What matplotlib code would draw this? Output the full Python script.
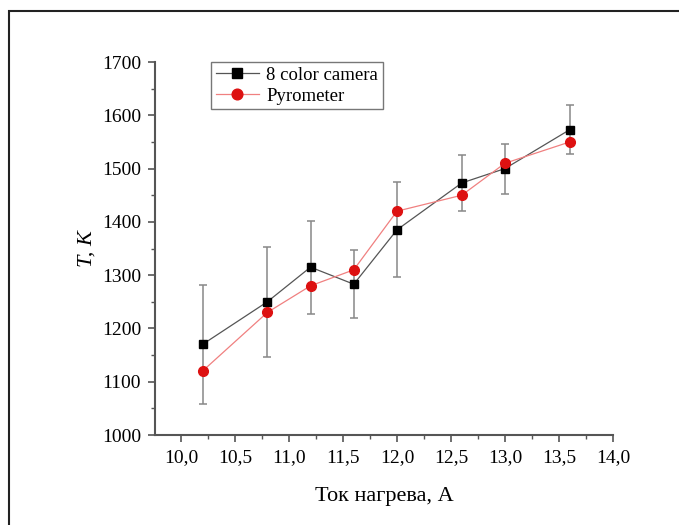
import matplotlib
matplotlib.use('Agg')
import matplotlib.pyplot as plt
from matplotlib.patches import Rectangle
from matplotlib.ticker import MultipleLocator, FuncFormatter

current = [10.2, 10.8, 11.2, 11.6, 12.0, 12.6, 13.0, 13.6]
camera_T = [1170, 1250, 1315, 1283, 1385, 1473, 1500, 1573]
camera_err = [111, 103, 87, 64, 89, 52, 47, 46]
pyro_T = [1120, 1230, 1280, 1310, 1420, 1450, 1510, 1550]

plt.rcParams['font.family'] = ['Liberation Serif', 'DejaVu Serif']

fig = plt.figure(figsize=(6.79, 5.25), dpi=100)
# outer frame (left and top edges visible)
fig.patches.append(Rectangle((9 / 679, -0.05), 1.0, 1 - 11 / 525 + 0.05,
                             transform=fig.transFigure, fill=False,
                             edgecolor='#222222', lw=1.5))

ax = fig.add_axes([155 / 679, 1 - 435 / 525, (613 - 155) / 679, (435 - 62) / 525])

ax.errorbar(current, camera_T, yerr=camera_err, fmt='none', ecolor='#888888',
            elinewidth=1.1, capsize=3, capthick=1.1, zorder=2)
ax.plot(current, camera_T, color='#555555', lw=0.9, marker='s', ms=6,
        mfc='black', mec='black', label='8 color camera', zorder=3)
ax.plot(current, pyro_T, color='#f08080', lw=0.9, marker='o', ms=7,
        mfc='#dd1111', mec='#dd1111', label='Pyrometer', zorder=4)

ax.set_xlim(9.76, 14.0)
ax.set_ylim(1000, 1700)
ax.xaxis.set_major_locator(MultipleLocator(0.5))
ax.xaxis.set_minor_locator(MultipleLocator(0.25))
ax.yaxis.set_major_locator(MultipleLocator(100))
ax.yaxis.set_minor_locator(MultipleLocator(50))
ax.xaxis.set_major_formatter(FuncFormatter(lambda v, p: f'{v:.1f}'.replace('.', ',')))

for s in ['top', 'right']:
    ax.spines[s].set_visible(False)
for s in ['left', 'bottom']:
    ax.spines[s].set_color('#555555')
    ax.spines[s].set_linewidth(1.5)
ax.tick_params(which='major', direction='out', length=5, width=1.2, color='#555555',
               labelsize=14, pad=5)
ax.tick_params(which='minor', direction='out', length=3, width=1.0, color='#555555')

ax.set_xlabel('Ток нагрева, А', fontsize=16, labelpad=15)
ax.set_ylabel('T, K', fontsize=16, style='italic', labelpad=4)

leg = ax.legend(loc='upper left', bbox_to_anchor=(0.122, 1.0), borderaxespad=0,
                fontsize=13.5, frameon=True, fancybox=False, edgecolor='#555555',
                handlelength=2.3, borderpad=0.25, labelspacing=0.2, handletextpad=0.4,
                markerscale=1.1)
leg.get_frame().set_linewidth(1.0)

fig.savefig('out.png', dpi=100)
